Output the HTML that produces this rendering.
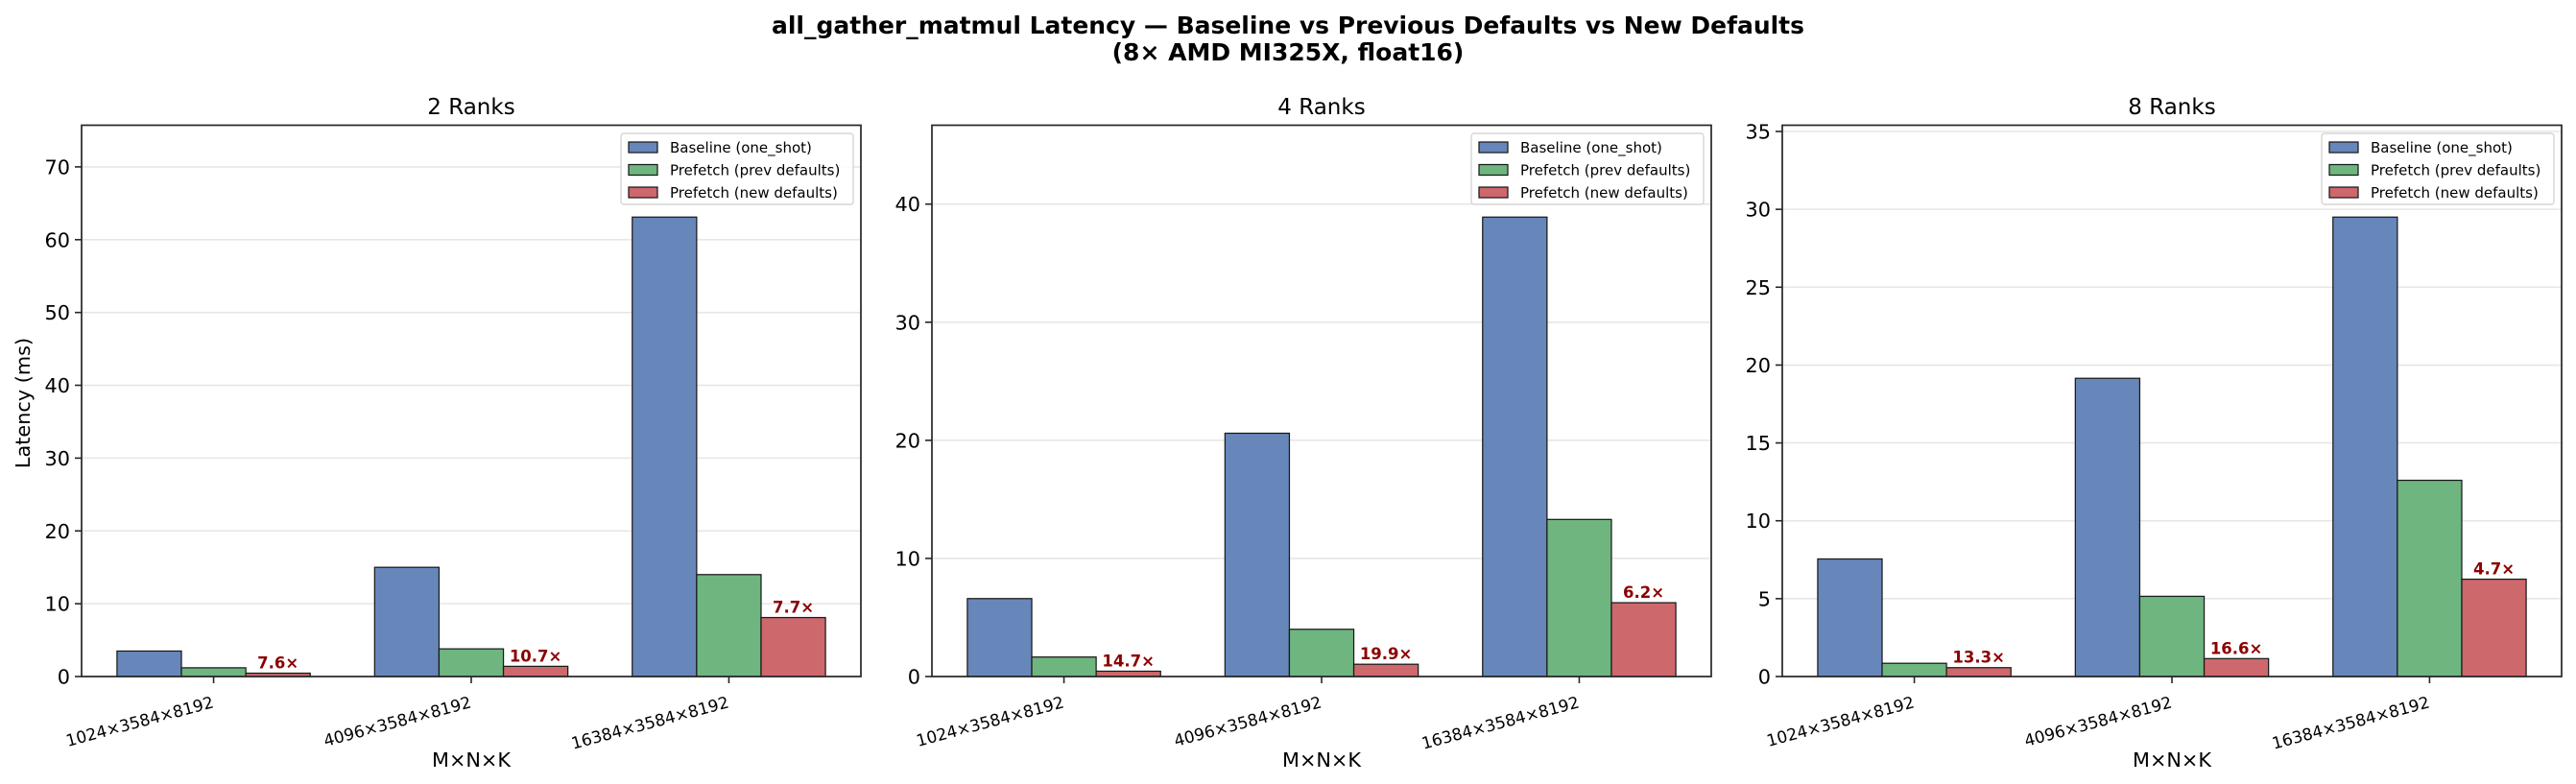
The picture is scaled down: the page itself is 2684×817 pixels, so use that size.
<!DOCTYPE html>
<html><head><meta charset="utf-8"><style>
html,body{margin:0;padding:0;background:#fff;}
svg{display:block;font-family:"DejaVu Sans","Liberation Sans",sans-serif;}
</style></head><body>
<svg id="fig" width="2684" height="817" viewBox="0 0 2684 817" xmlns="http://www.w3.org/2000/svg">
<rect x="0" y="0" width="2684" height="817" fill="#fff"/>
<text x="1342" y="35" text-anchor="middle" font-weight="bold" font-size="25" textLength="1076" lengthAdjust="spacingAndGlyphs">all_gather_matmul Latency — Baseline vs Previous Defaults vs New Defaults</text>
<text x="1342" y="63" text-anchor="middle" font-weight="bold" font-size="25">(8× AMD MI325X, float16)</text>
<text transform="translate(31,420) rotate(-90)" text-anchor="middle" font-size="20.8">Latency (ms)</text>
</svg>
<script>
const categories = ["1024×3584×8192", "4096×3584×8192", "16384×3584×8192"];
const panelTitles = ["2 Ranks", "4 Ranks", "8 Ranks"];
const seriesNames = ["Baseline (one_shot)", "Prefetch (prev defaults)", "Prefetch (new defaults)"];
const baseline2 = [3.5, 15.0, 63.1];
const prev2 = [1.2, 3.8, 14.0];
const new2 = [0.46, 1.4, 8.1];
const speedup2 = ["7.6×", "10.7×", "7.7×"];
const baseline4 = [6.6, 20.6, 38.9];
const prev4 = [1.65, 4.0, 13.3];
const new4 = [0.45, 1.04, 6.25];
const speedup4 = ["14.7×", "19.9×", "6.2×"];
const baseline8 = [7.55, 19.15, 29.5];
const prev8 = [0.85, 5.15, 12.6];
const new8 = [0.57, 1.15, 6.25];
const speedup8 = ["13.3×", "16.6×", "4.7×"];
const yTicks2 = [0, 10, 20, 30, 40, 50, 60, 70];
const yTicks4 = [0, 10, 20, 30, 40];
const yTicks8 = [0, 5, 10, 15, 20, 25, 30, 35];

const NS = "http://www.w3.org/2000/svg";
const svg = document.getElementById("fig");
const colors = ["#6787bb", "#6fb57f", "#cd686c"];
function mk(tag, attrs, parent, text) {
  const e = document.createElementNS(NS, tag);
  for (const k in attrs) e.setAttribute(k, attrs[k]);
  if (text !== undefined) e.textContent = text;
  (parent || svg).appendChild(e);
  return e;
}
const panels = [
  {left: 85, series: [baseline2, prev2, new2], sp: speedup2, ticks: yTicks2},
  {left: 971, series: [baseline4, prev4, new4], sp: speedup4, ticks: yTicks4},
  {left: 1857, series: [baseline8, prev8, new8], sp: speedup8, ticks: yTicks8}
];
const W = 812, TOP = 130.5, BOT = 705;
panels.forEach((p, pi) => {
  const g = mk("g", {});
  
  
  let maxV = 0;
  p.series.forEach(s => s.forEach(v => { if (v > maxV) maxV = v; }));
  const yMax = maxV * 1.2;
  const xMin = -0.5125, xMax = 2.5125;
  const xs = v => p.left + (v - xMin) / (xMax - xMin) * W;
  const ys = v => BOT - v / yMax * (BOT - TOP);
  p.ticks.forEach(t => {
    if (t > yMax) return;
    const y = ys(t);
    const gl = mk("line", {x1: p.left, x2: p.left + W, y1: y, y2: y, stroke: "#e6e6e6", "stroke-width": 1.6}, g);
    
    
    mk("line", {x1: p.left - 7, x2: p.left, y1: y, y2: y, stroke: "#262626", "stroke-width": 1.6}, g);
    const tl = mk("text", {x: p.left - 12, y: y + 7.5, "text-anchor": "end", "font-size": 20.8, fill: "#000"}, g, String(t));
    
    
  });
  const bw = 0.25;
  p.series.forEach((s, si) => {
    s.forEach((v, ci) => {
      const c = ci + (si - 1) * bw;
      const x0 = xs(c - bw / 2), x1 = xs(c + bw / 2);
      const r = mk("rect", {x: x0, y: ys(v), width: x1 - x0, height: BOT - ys(v), fill: colors[si], stroke: "#1a1a1a", "stroke-width": 1.25}, g);
      
      
      if (si === 2) {
        const lbl = mk("text", {x: xs(c), y: ys(v) - 5, "text-anchor": "middle", "font-size": 16.5, "font-weight": "bold", fill: "#8b0000"}, g, p.sp[ci]);
        
        
      }
    });
  });
  categories.forEach((cat, ci) => {
    const x = xs(ci);
    mk("line", {x1: x, x2: x, y1: BOT, y2: BOT + 7, stroke: "#262626", "stroke-width": 1.6}, g);
    const tl = mk("text", {x: 0, y: 0, "text-anchor": "end", "font-size": 17, transform: "translate(" + (x + 1) + "," + (BOT + 32) + ") rotate(-15)"}, g, cat);
    
    
  });
  const fr = mk("rect", {x: p.left, y: TOP, width: W, height: BOT - TOP, fill: "none", stroke: "#262626", "stroke-width": 1.7}, g);
  
  
  const t = mk("text", {x: p.left + W / 2, y: 119, "text-anchor": "middle", "font-size": 23}, g, panelTitles[pi]);
  
  
  const xl = mk("text", {x: p.left + W / 2, y: 799, "text-anchor": "middle", "font-size": 20.8}, g, "M×N×K");
  
  
  const lx = p.left + W - 250, ly = TOP + 8.5;
  const lg = mk("g", {}, g);
  
  
  mk("rect", {x: lx, y: ly, width: 242, height: 74, rx: 3, fill: "#fff", "fill-opacity": 0.85, stroke: "#d6d6d6", "stroke-width": 1.4}, lg);
  seriesNames.forEach((n, si) => {
    const cy = ly + 14.5 + si * 23.5;
    const e = mk("g", {}, lg);
    
    
    mk("rect", {x: lx + 8, y: cy - 5.5, width: 30, height: 11, fill: colors[si], stroke: "#1a1a1a", "stroke-width": 1.25}, e);
    mk("text", {x: lx + 51, y: cy + 5.5, "font-size": 15}, e, n);
  });
});
</script>
</body></html>
